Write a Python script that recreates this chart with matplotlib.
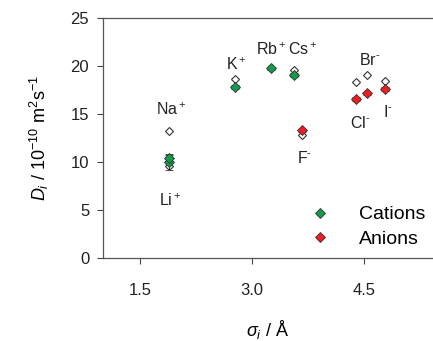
import matplotlib
matplotlib.use("Agg")
import matplotlib.pyplot as plt

plt.rcParams['font.family'] = ['Liberation Sans', 'DejaVu Sans']
plt.rcParams['mathtext.fontset'] = 'custom'
plt.rcParams['mathtext.rm'] = 'Liberation Sans'
plt.rcParams['mathtext.it'] = 'Liberation Sans:italic'
plt.rcParams['mathtext.bf'] = 'Liberation Sans:bold'

# cations: Li, Na, K, Rb, Cs
cat_sigma = [1.88, 1.88, 2.77, 3.26, 3.57]
cat_sim = [10.0, 10.4, 17.8, 19.75, 19.1]
cat_err = [0.8, 0.3, 0.2, 0.2, 0.2]
cat_exp = [9.6, 13.2, 18.7, 19.8, 19.6]

# anions: F, Cl, Br, I
an_sigma = [3.67, 4.40, 4.54, 4.78]
an_sim = [13.3, 16.6, 17.15, 17.6]
an_err = [0.2, 0.2, 0.2, 0.2]
an_exp = [12.8, 18.3, 19.05, 18.4]

labels = ['Li$^+$', 'Na$^+$', 'K$^+$', 'Rb$^+$', 'Cs$^+$',
          'F$^\\text{-}$', 'Cl$^\\text{-}$', 'Br$^\\text{-}$', 'I$^\\text{-}$']
label_x = [1.90, 1.92, 2.79, 3.26, 3.68, 3.71, 4.45, 4.58, 4.82]
label_y = [6.0, 15.5, 20.1, 21.7, 21.7, 10.4, 14.1, 20.6, 15.2]

fig = plt.figure(figsize=(4.33, 3.41), dpi=100)
ax = fig.add_axes([0.238, 0.243, 0.762, 0.704])

ax.plot(cat_sigma, cat_exp, 'D', ms=4.5, mfc='white', mec='#333333', mew=0.8, zorder=2)
ax.plot(an_sigma, an_exp, 'D', ms=4.5, mfc='white', mec='#333333', mew=0.8, zorder=2)
ax.errorbar(cat_sigma, cat_sim, yerr=cat_err, fmt='D', ms=5.5, mfc='#139c4a', mec='#333333',
            mew=0.6, ecolor='#333333', elinewidth=0.8, capsize=3, label='Cations', zorder=3)
ax.errorbar(an_sigma, an_sim, yerr=an_err, fmt='D', ms=5.5, mfc='#ee1c25', mec='#333333',
            mew=0.6, ecolor='#333333', elinewidth=0.8, capsize=3, label='Anions', zorder=3)

for t, x, y in zip(labels, label_x, label_y):
    ax.text(x, y, t, ha='center', va='center', fontsize=11.5, color='#222222')

ax.set_xlim(1.0, 5.43)
ax.set_ylim(0, 25)
ax.set_xticks([1.5, 3.0, 4.5])
ax.set_xticklabels(['1.5', '3.0', '4.5'])
ax.set_yticks([0, 5, 10, 15, 20, 25])
ax.tick_params(direction='out', length=4, width=0.8, labelsize=12, colors='#444444',
               labelcolor='#222222')
ax.tick_params(axis='x', pad=14)
ax.tick_params(axis='y', pad=6)
ax.spines['right'].set_visible(False)
for s in ['left', 'bottom', 'top']:
    ax.spines[s].set_color('#555555')
    ax.spines[s].set_linewidth(0.9)

ax.set_xlabel('$\\sigma_i$ / Å', fontsize=13, labelpad=14)
ax.set_ylabel('$D_i$ / 10$^{-10}$ m$^2$s$^{-1}$', fontsize=13, labelpad=14)

handles, labs = ax.get_legend_handles_labels()
handles = [h[0] for h in handles]
ax.legend(handles, labs, loc='lower right', frameon=False, fontsize=14,
          handletextpad=1.0, markerscale=0.9, bbox_to_anchor=(1.03, -0.03),
          labelspacing=0.35)

fig.savefig('out.png', dpi=100)
